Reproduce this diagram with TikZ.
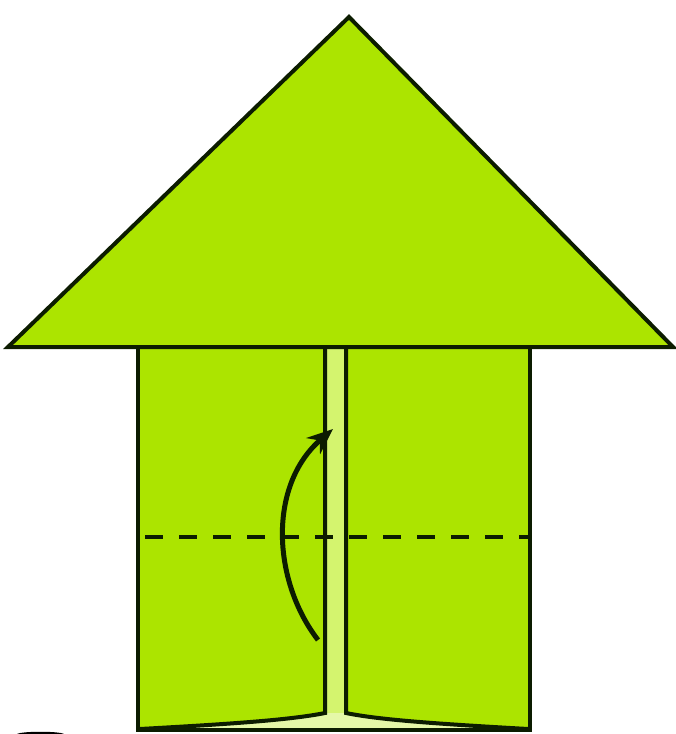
\documentclass[tikz,border=0pt]{standalone}
\definecolor{Leaf}{RGB}{172,228,0}
\definecolor{LeafPale}{RGB}{212,244,110}
\definecolor{Ink}{RGB}{12,28,0}
\usetikzlibrary{arrows.meta}

\begin{document}
\begin{tikzpicture}[x=0.03cm,y=-0.03cm]
  \useasboundingbox (0,0) rectangle (675,734);
  % body and middle strip
  \fill[Leaf] (138,347) rectangle (530,730);
  \fill[LeafPale] (325,347) rectangle (346,730);
  \fill[LeafPale!60!white] (140,729) .. controls (230,724) and (290,720) .. (325,713)
    -- (346,713) .. controls (380,720) and (440,724) .. (528,729) -- cycle;
  % roof
  \fill[Leaf] (8,347) -- (349,17) -- (673,347) -- cycle;
  \draw[Ink,line width=4*0.03cm,line join=miter] (8,347) -- (349,17) -- (673,347) -- cycle;
  % panels
  \draw[Ink,line width=4*0.03cm] (138,347) -- (138,730) -- (530,730) -- (530,347);
  \draw[Ink,line width=4*0.03cm] (325,347) -- (325,713)
    .. controls (290,720) and (230,724) .. (140,729);
  \draw[Ink,line width=4*0.03cm] (346,347) -- (346,713)
    .. controls (380,720) and (440,724) .. (528,729);
  % fold line
  \draw[Ink,line width=4*0.03cm,dash pattern=on 18*0.03cm off 16*0.03cm]
    (145,537) -- (530,537);
  % fold arrow
  \coordinate (tail) at (318,640);
  \coordinate (tip) at (333,429);
  \draw[Ink,line width=5*0.03cm,-{Stealth[length=26*0.03cm,width=21*0.03cm]}]
    (tail) .. controls (272,580) and (268,485) .. (tip);
  % mark at the lower edge
  \fill[black] (17,734) .. controls (22,731) and (59,731) .. (64,734) -- cycle;
\end{tikzpicture}
\end{document}
